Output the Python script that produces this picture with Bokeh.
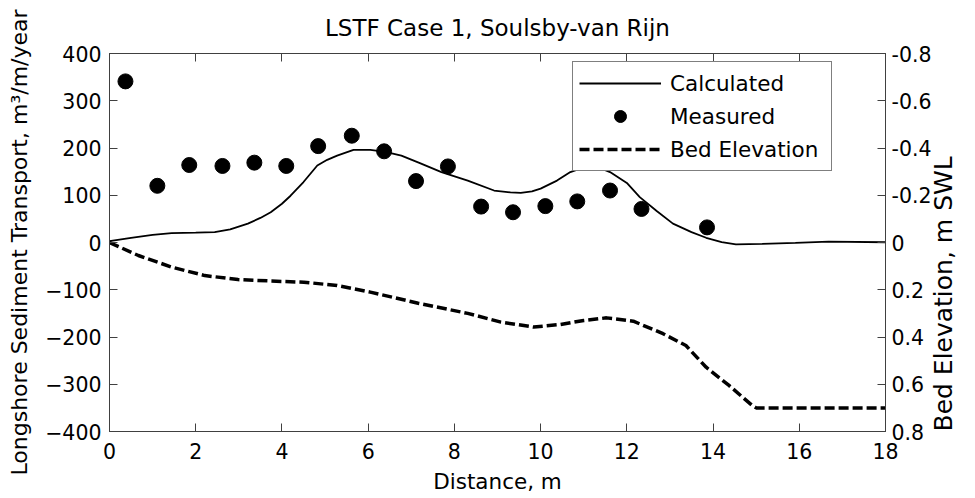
import math
from bokeh.plotting import figure
from bokeh.models import LinearAxis, Range1d, FixedTicker, Legend, LegendItem
from bokeh.embed import file_html
from bokeh.resources import INLINE

# ---- data ----
dist_meas = [0.37, 1.11, 1.85, 2.62, 3.36, 4.10, 4.84, 5.62, 6.37, 7.11, 7.85, 8.62, 9.36, 10.11, 10.85, 11.61, 12.34, 13.86]
meas = [341, 120, 164, 162, 169, 162, 204, 226, 193, 130, 161, 76, 64, 77, 87, 110, 71, 32]

dist_calc = [0, 0.5, 1.0, 1.44, 2.0, 2.44, 2.8, 3.21, 3.5, 3.74, 4.0, 4.2, 4.5, 4.82, 5.05, 5.28, 5.66, 6.05,
             6.4, 6.77, 7.2, 7.7, 8.31, 8.92, 9.3, 9.54, 9.8, 10.0, 10.38, 10.69, 11.0, 11.2, 11.4, 11.61,
             12.0, 12.3, 12.7, 13.07, 13.5, 13.84, 14.2, 14.53, 15.14, 15.91, 16.68, 18]
calc = [3, 10, 16, 20, 21, 22, 28, 40, 52, 64, 82, 99, 128, 163, 175, 184, 196, 196,
        192, 184, 168, 149, 131, 110, 106, 105, 108, 114, 131, 149, 159, 161, 157, 149,
        126, 96, 66, 40, 22, 10, 1, -4, -3, -1, 2, 0.5]

dist_bed = [0, 0.67, 1.44, 2.21, 2.98, 3.74, 4.51, 5.28, 6.05, 7.16, 8.31, 9.08, 9.84, 10.46, 11.0, 11.53,
            12.15, 12.84, 13.37, 13.84, 14.37, 14.91, 15.0, 18]
bed = [0, 0.055, 0.104, 0.14, 0.157, 0.163, 0.168, 0.182, 0.21, 0.257, 0.30, 0.337, 0.358, 0.347, 0.33, 0.319,
       0.333, 0.386, 0.436, 0.528, 0.605, 0.69, 0.70, 0.70]

x_ticks = [0, 2, 4, 6, 8, 10, 12, 14, 16, 18]
left_ticks = [-400, -300, -200, -100, 0, 100, 200, 300, 400]
right_ticks = [-0.8, -0.6, -0.4, -0.2, 0, 0.2, 0.4, 0.6, 0.8]
right_labels = ["-0.8", "-0.6", "-0.4", "-0.2", "0", "0.2", "0.4", "0.6", "0.8"]

FONT = "DejaVu Sans"
TICK_FS = "20.5px"
AX = "#404040"

p = figure(width=975, height=498, output_backend="svg", toolbar_location=None,
           x_range=Range1d(0, 18), y_range=Range1d(-400, 400),
           min_border_left=109, min_border_right=84, min_border_top=53, min_border_bottom=67,
           title="LSTF Case 1, Soulsby-van Rijn")
p.extra_y_ranges = {"bed": Range1d(0.8, -0.8)}

p.title.align = "center"
p.title.text_font = FONT
p.title.text_font_size = "23px"
p.title.text_font_style = "normal"
p.title.text_color = "black"
p.title.standoff = 25

p.xgrid.visible = False
p.ygrid.visible = False
p.outline_line_color = AX
p.background_fill_color = "white"
p.border_fill_color = "white"


def style(ax, label_fs):
    ax.axis_line_color = AX
    ax.major_tick_line_color = AX
    ax.major_tick_in = 8
    ax.major_tick_out = 0
    ax.minor_tick_line_color = None
    ax.major_label_text_font = FONT
    ax.major_label_text_font_size = TICK_FS
    ax.major_label_text_color = "black"
    ax.axis_label_text_font = FONT
    ax.axis_label_text_font_size = label_fs
    ax.axis_label_text_font_style = "normal"
    ax.axis_label_text_color = "black"


xa = p.xaxis[0]
xa.ticker = FixedTicker(ticks=x_ticks)
xa.axis_label = "Distance, m"
style(xa, "21.5px")
xa.major_label_standoff = 11
xa.axis_label_standoff = 7

ya = p.yaxis[0]
ya.ticker = FixedTicker(ticks=left_ticks)
ya.axis_label = "Longshore Sediment Transport, m³/m/year"
style(ya, "22px")
ya.major_label_standoff = 8
ya.axis_label_standoff = 10

ra = LinearAxis(y_range_name="bed", ticker=FixedTicker(ticks=right_ticks), axis_label="Bed Elevation, m SWL",
                major_label_overrides={t: l for t, l in zip(right_ticks, right_labels)})
style(ra, "25px")
ra.major_label_standoff = 6
ra.axis_label_standoff = 9
ra.axis_label_orientation = math.pi / 2
if "axis_label_align" in ra.properties():
    ra.axis_label_align = "end"
p.add_layout(ra, "right")

ta = LinearAxis(ticker=FixedTicker(ticks=x_ticks),
                major_label_overrides={t: "" for t in x_ticks})
style(ta, "12px")
ta.major_label_standoff = 0
p.add_layout(ta, "above")

r_calc = p.line(dist_calc, calc, line_color="black", line_width=1.8)
r_meas = p.scatter(dist_meas, meas, size=15, fill_color="black", line_color="black", marker="circle")
r_bed = p.line(dist_bed, bed, y_range_name="bed", line_color="black", line_width=3.5, line_dash="10 4")

legend = Legend(items=[LegendItem(label="Calculated", renderers=[r_calc]),
                       LegendItem(label="Measured", renderers=[r_meas]),
                       LegendItem(label="Bed Elevation", renderers=[r_bed])],
                location=(463, 260))
legend.border_line_color = "black"
legend.border_line_width = 1
legend.background_fill_color = "white"
legend.background_fill_alpha = 1
legend.label_text_font = FONT
legend.label_text_font_size = "21.5px"
legend.label_text_color = "black"
legend.glyph_width = 82
legend.glyph_height = 30
legend.label_height = 30
legend.label_width = 155
legend.label_standoff = 9
legend.spacing = 3
legend.padding = 6
legend.margin = 0
p.add_layout(legend, "center")

open("out.html", "w").write(file_html(p, INLINE))
